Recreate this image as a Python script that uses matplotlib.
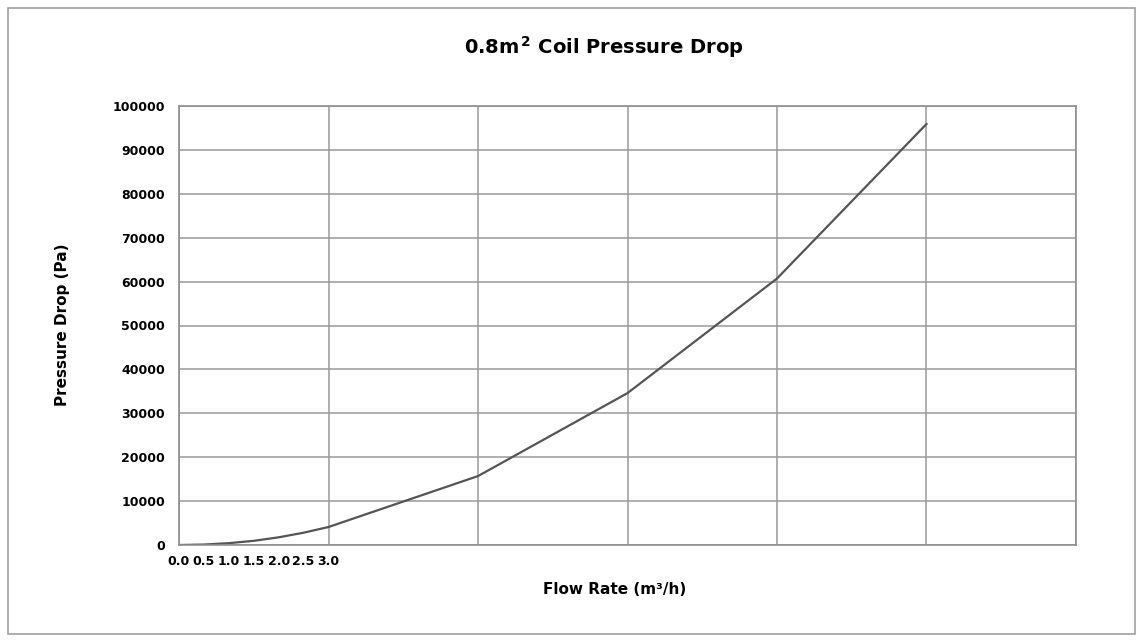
import matplotlib.pyplot as plt
from matplotlib.patches import Rectangle

# flow rate (m3/h) and pressure drop (Pa)
flow = [0.0, 0.5, 1.0, 1.5, 2.0, 2.5, 3.0, 6.0, 9.0, 12.0, 15.0]
pressure = [0, 100, 420, 950, 1750, 2800, 4100, 15700, 34600, 60700, 95900]

label_ticks = [0.0, 0.5, 1.0, 1.5, 2.0, 2.5, 3.0]
grid_ticks = [0, 3, 6, 9, 12, 15, 18]
y_ticks = list(range(0, 100001, 10000))

fig = plt.figure(figsize=(11.43, 6.42), dpi=100)
ax = fig.add_axes([179/1143, 97/642, 897/1143, 439/642])

ax.plot(flow, pressure, color='#555555', lw=1.6)

ax.set_xlim(0, 18)
ax.set_ylim(0, 100000)

# major ticks only draw the grid, minor ticks carry the labels
ax.xaxis.remove_overlapping_locs = False
ax.set_xticks(grid_ticks)
ax.set_xticklabels([])
ax.set_xticks(label_ticks, minor=True)
ax.set_xticklabels(['%.1f' % v for v in label_ticks], minor=True,
                   fontsize=9, fontweight='bold')
ax.set_yticks(y_ticks)
ax.set_yticklabels([str(v) for v in y_ticks], fontsize=9, fontweight='bold')
ax.tick_params(axis='both', which='both', length=0)
ax.tick_params(axis='x', which='minor', pad=7)
ax.tick_params(axis='y', pad=10)

ax.grid(True, which='major', color='#9a9a9a', lw=1.1)
for s in ax.spines.values():
    s.set_color('#8f8f8f')
    s.set_linewidth(1.2)

fig.text(604/1143, 1 - 47/642, '0.8m$^{\\,\\mathbf{2}}$ Coil Pressure Drop',
         ha='center', va='center', fontsize=14, fontweight='bold')
fig.text(615/1143, 1 - 590/642, 'Flow Rate (m³/h)', ha='center', va='center',
         fontsize=11, fontweight='bold')
fig.text(63/1143, 1 - 325/642, 'Pressure Drop (Pa)', ha='center', va='center',
         rotation=90, fontsize=11, fontweight='bold')

fig.patches.append(Rectangle((8/1143, 8/642), 1127/1143, 626/642,
                             transform=fig.transFigure, fill=False,
                             edgecolor='#a0a0a0', lw=1.2))

fig.savefig('out.png', dpi=100)
